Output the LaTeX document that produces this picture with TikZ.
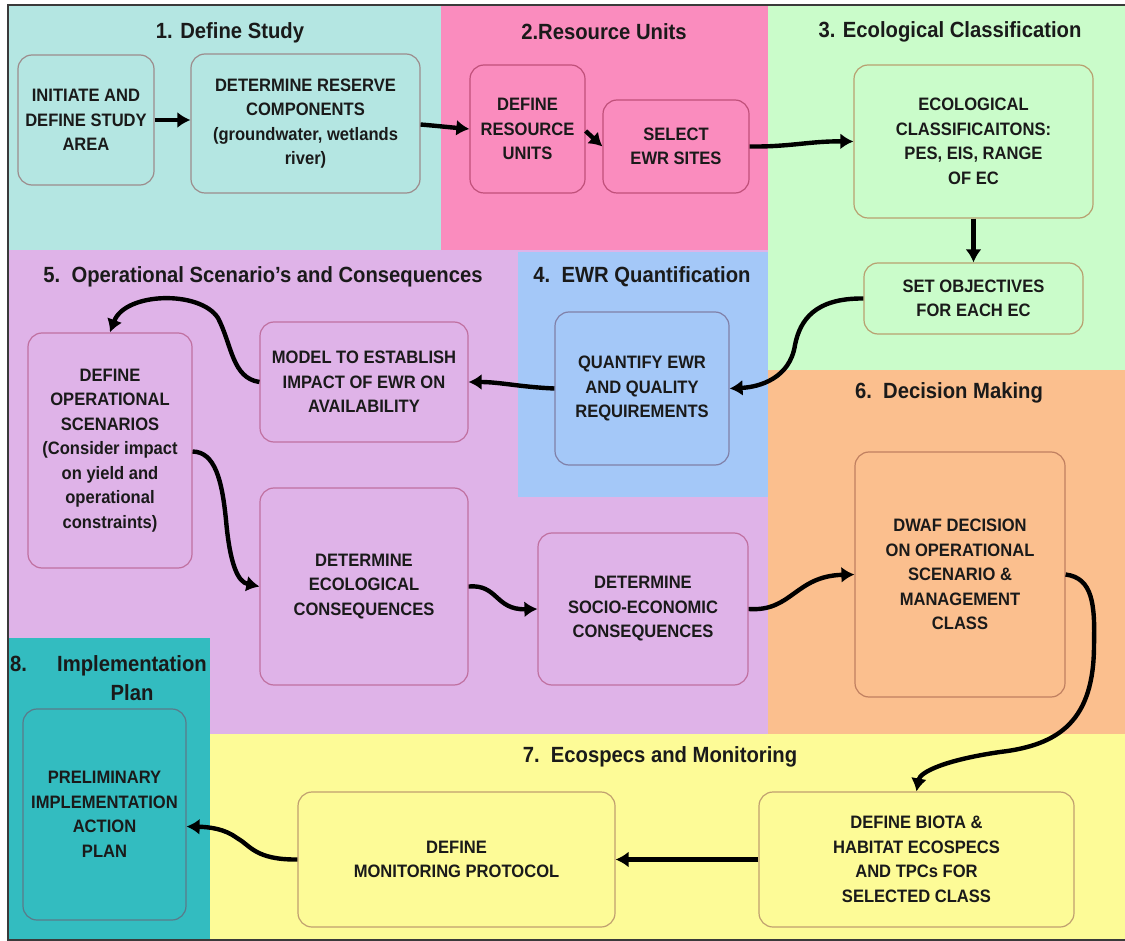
\documentclass[tikz,border=0pt]{standalone}
\usepackage{fontspec}
\setmainfont{Liberation Sans}[FakeStretch=0.92]
\usetikzlibrary{arrows.meta}
\definecolor{cyanbg}{HTML}{B4E6E2}
\definecolor{pinkbg}{HTML}{FA8CBE}
\definecolor{greenbg}{HTML}{CAFCCA}
\definecolor{lavbg}{HTML}{DFB3E8}
\definecolor{bluebg}{HTML}{A4C8F8}
\definecolor{orangebg}{HTML}{FBBF8E}
\definecolor{yellowbg}{HTML}{FDFB97}
\definecolor{tealbg}{HTML}{33BCC0}
\definecolor{txt}{HTML}{1A1A1A}
\definecolor{framec}{HTML}{3A3A3A}
\definecolor{bcyan}{HTML}{9C8C8C}
\definecolor{bpink}{HTML}{C0507A}
\definecolor{bgreen}{HTML}{B8A070}
\definecolor{bblue}{HTML}{8080A8}
\definecolor{blav}{HTML}{C070A0}
\definecolor{borange}{HTML}{C08060}
\definecolor{byellow}{HTML}{C0A070}
\definecolor{bteal}{HTML}{5A7A8A}
\newcommand\dnodefont{\bfseries\fontsize{18}{24.5}\selectfont}
\newcommand\dtitlefont{\bfseries\fontsize{22}{26}\selectfont}
\tikzset{
  box/.style={draw, rounded corners=14pt, line width=1.2pt, align=center,
    text=txt, font=\dnodefont, inner sep=2pt},
  ttl/.style={font=\dtitlefont, text=txt, inner sep=0pt},
  arr/.style={line width=4.4pt, draw=black, -{Latex[length=13pt,width=16pt]}},
}
\begin{document}
\begin{tikzpicture}[x=1pt,y=-1pt]
\useasboundingbox (0,0) rectangle (1125,941);
% regions
\fill[cyanbg] (8,5) rectangle (441,250);
\fill[pinkbg] (441,5) rectangle (768,252);
\fill[greenbg] (768,5) rectangle (1125,370);
\fill[lavbg] (8,250) rectangle (768,734);
\fill[bluebg] (518,252) rectangle (768,497);
\fill[orangebg] (768,370) rectangle (1125,734);
\fill[yellowbg] (210,734) rectangle (1125,941);
\fill[tealbg] (8,638) rectangle (210,941);
\draw[framec, line width=2pt] (1125,5) -- (8,5) -- (8,940) -- (1125,940);
% titles
\node[ttl] (t1) at (230,33) {1. Define Study};
\node[ttl] (t2) at (604,32) {2.Resource Units};
\node[ttl] (t3) at (950,32) {3. Ecological Classification};
\node[ttl] (t5) at (263,277) {5.\ \ Operational Scenario's and Consequences};
\node[ttl] (t4) at (642,277) {4.\ \ EWR Quantification};
\node[ttl] (t6) at (949,393) {6.\ \ Decision Making};
\node[ttl] (t7) at (660,757) {7.\ \ Ecospecs and Monitoring};
\node[ttl, anchor=west] (t8a) at (10,664) {8.};
\node[ttl, align=center] (t8b) at (132,678) {Implementation\\[3pt]Plan};
% boxes
\node[box, draw=bcyan, minimum width=136pt, minimum height=130pt] (init) at (86,120)
  {INITIATE AND\\DEFINE STUDY\\AREA};
\node[box, draw=bcyan, minimum width=229pt, minimum height=139pt] (reserve) at (305.5,123.5)
  {DETERMINE RESERVE\\COMPONENTS\\(groundwater, wetlands\\river)};
\node[box, draw=bpink, minimum width=115pt, minimum height=128pt] (resunits) at (527.5,129)
  {DEFINE\\RESOURCE\\UNITS};
\node[box, draw=bpink, minimum width=146pt, minimum height=93pt] (select) at (676,146.5)
  {SELECT\\EWR SITES};
\node[box, draw=bgreen, minimum width=239pt, minimum height=153pt] (ecocls) at (973.5,141.5)
  {ECOLOGICAL\\CLASSIFICAITONS:\\PES, EIS, RANGE\\OF EC};
\node[box, draw=bgreen, minimum width=219pt, minimum height=71pt] (setobj) at (973.5,298.5)
  {SET OBJECTIVES\\FOR EACH EC};
\node[box, draw=bblue, minimum width=174pt, minimum height=153pt] (quant) at (642,388.5)
  {QUANTIFY EWR\\AND QUALITY\\REQUIREMENTS};
\node[box, draw=blav, minimum width=208pt, minimum height=120pt] (model) at (364,382)
  {MODEL TO ESTABLISH\\IMPACT OF EWR ON\\AVAILABILITY};
\node[box, draw=blav, minimum width=164pt, minimum height=235pt] (defop) at (110,450.5)
  {DEFINE\\OPERATIONAL\\SCENARIOS\\(Consider impact\\on yield and\\operational\\constraints)};
\node[box, draw=blav, minimum width=208pt, minimum height=197pt] (ecocons) at (364,586.5)
  {DETERMINE\\ECOLOGICAL\\CONSEQUENCES};
\node[box, draw=blav, minimum width=210pt, minimum height=152pt] (socio) at (643,609)
  {DETERMINE\\SOCIO-ECONOMIC\\CONSEQUENCES};
\node[box, draw=borange, minimum width=210pt, minimum height=245pt] (dwaf) at (960,574.5)
  {DWAF DECISION\\ON OPERATIONAL\\SCENARIO \&\\MANAGEMENT\\CLASS};
\node[box, draw=byellow, minimum width=315pt, minimum height=135pt] (biota) at (916.5,859.5)
  {DEFINE BIOTA \&\\HABITAT ECOSPECS\\AND TPCs FOR\\SELECTED CLASS};
\node[box, draw=byellow, minimum width=317pt, minimum height=135pt] (monit) at (456.5,859.5)
  {DEFINE\\MONITORING PROTOCOL};
\node[box, draw=bteal, minimum width=163pt, minimum height=211pt] (prelim) at (104.5,814.5)
  {PRELIMINARY\\IMPLEMENTATION\\ACTION\\PLAN};
% connectors
\draw[arr] (init.east) -- (init.east -| reserve.west);
\draw[arr] ([yshift=-1pt]reserve.east) to[out=-5,in=175] (resunits.west);
\draw[arr] ([yshift=-2pt]resunits.east) -- (select.west);
\draw[arr] (select.east) .. controls (790,147) and (810,141) .. (ecocls.west);
\draw[arr] (ecocls.south) -- (setobj.north);
\draw[arr] (setobj.west) .. controls (815,298) and (800,320) .. (795,345)
  .. controls (790,378) and (760,387) .. (quant.east);
\draw[arr] (quant.west) .. controls (520,387) and (500,382) .. (model.east);
\draw[arr] (model.west) .. controls (232,378) and (232,345) .. (218,318)
  .. controls (200,290) and (125,292) .. (defop.north);
\draw[arr] ([yshift=-1pt]defop.east) .. controls (215,452) and (222,480) .. (226,520)
  .. controls (230,565) and (238,582) .. (ecocons.west);
\draw[arr] (ecocons.east) .. controls (498,584) and (495,610) .. (socio.west);
\draw[arr] (socio.east) .. controls (792,612) and (795,576) .. (dwaf.west);
\draw[arr] (dwaf.east) .. controls (1093,578) and (1095,605) .. (1094,645)
  .. controls (1094,720) and (1060,745) .. (1000,752)
  .. controls (945,760) and (920,772) .. (biota.north);
\draw[arr] (biota.west) -- (monit.east);
\draw[arr] (monit.west) .. controls (255,860) and (250,845) .. (237,838)
  .. controls (225,829) and (210,827) .. ([yshift=-12pt]prelim.east);
\end{tikzpicture}
\end{document}
